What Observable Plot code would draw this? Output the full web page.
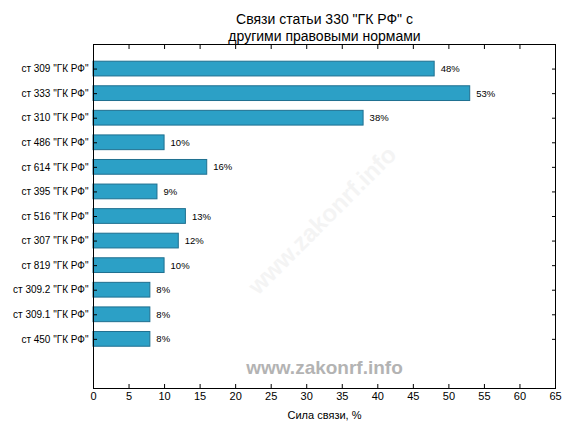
<!DOCTYPE html>
<html>
<head>
<meta charset="utf-8">
<script src="https://cdn.jsdelivr.net/npm/d3@7"></script>
<script src="https://cdn.jsdelivr.net/npm/@observablehq/plot@0.6"></script>
<style>
body { margin: 0; background: #fff; }
svg { font-family: "Liberation Sans", Arial, sans-serif; }
</style>
</head>
<body>
<div id="chart"></div>
<script>
const categories = ['ст 309 "ГК РФ"', 'ст 333 "ГК РФ"', 'ст 310 "ГК РФ"', 'ст 486 "ГК РФ"', 'ст 614 "ГК РФ"', 'ст 395 "ГК РФ"', 'ст 516 "ГК РФ"', 'ст 307 "ГК РФ"', 'ст 819 "ГК РФ"', 'ст 309.2 "ГК РФ"', 'ст 309.1 "ГК РФ"', 'ст 450 "ГК РФ"'];
const values = [48, 53, 38, 10, 16, 9, 13, 12, 10, 8, 8, 8];
const xTicks = [0, 5, 10, 15, 20, 25, 30, 35, 40, 45, 50, 55, 60, 65];
const titleLines = ['Связи статьи 330 "ГК РФ" с', 'другими правовыми нормами'];
const xLabel = "Сила связи, %";
const watermark = "www.zakonrf.info";

const n = categories.length;
const data = categories.map((c, i) => ({cat: c, pos: n - 1 - i, value: values[i]}));
const yTicks = data.map(d => d.pos);
const labelOf = new Map(data.map(d => [d.pos, d.cat]));
const blank = () => "";

const chart = Plot.plot({
  width: 576,
  height: 432,
  marginLeft: 93,
  marginRight: 21,
  marginTop: 44,
  marginBottom: 44,
  style: {fontFamily: '"Liberation Sans", Arial, sans-serif', background: "#fff"},
  x: {domain: [0, 65], ticks: xTicks},
  y: {domain: [-2, n], ticks: yTicks},
  marks: [
    Plot.text([watermark], {frameAnchor: "middle", dx: -2, dy: 4, rotate: -45, fontSize: 24, fontWeight: "bold", fill: "#f4f4f4"}),
    Plot.rectX(data, {x1: 0, x2: "value", y1: d => d.pos - 0.3, y2: d => d.pos + 0.3, fill: "#2ca0c6", stroke: "#1f7090", strokeWidth: 1}),
    Plot.text(data, {x: "value", y: "pos", text: d => d.value + "%", textAnchor: "start", dx: 6, fontSize: 9.5, fill: "#000"}),
    Plot.text([watermark], {frameAnchor: "bottom", dy: -15, fontSize: 19, fontWeight: "bold", fill: "#b3b3b3"}),
    Plot.frame({stroke: "#000", strokeWidth: 1}),
    Plot.axisX({anchor: "bottom", ticks: xTicks, tickSize: -4, tickPadding: 8, fontSize: 11, label: null, color: "#000"}),
    Plot.axisX({anchor: "top", ticks: xTicks, tickSize: -4, tickFormat: blank, label: null, color: "#000"}),
    Plot.axisY({anchor: "left", ticks: yTicks, tickSize: -4, tickPadding: 9, tickFormat: d => labelOf.get(d), fontSize: 10, label: null, color: "#000"}),
    Plot.axisY({anchor: "right", ticks: yTicks, tickSize: -4, tickFormat: blank, label: null, color: "#000"}),
    Plot.text([xLabel], {frameAnchor: "bottom", dy: 30, fontSize: 11, fill: "#000"}),
    Plot.text([titleLines.join("\n")], {frameAnchor: "top", dy: -4, lineAnchor: "bottom", lineHeight: 1.2, fontSize: 14, fill: "#000"})
  ]
});
document.getElementById("chart").append(chart);
</script>
</body>
</html>
